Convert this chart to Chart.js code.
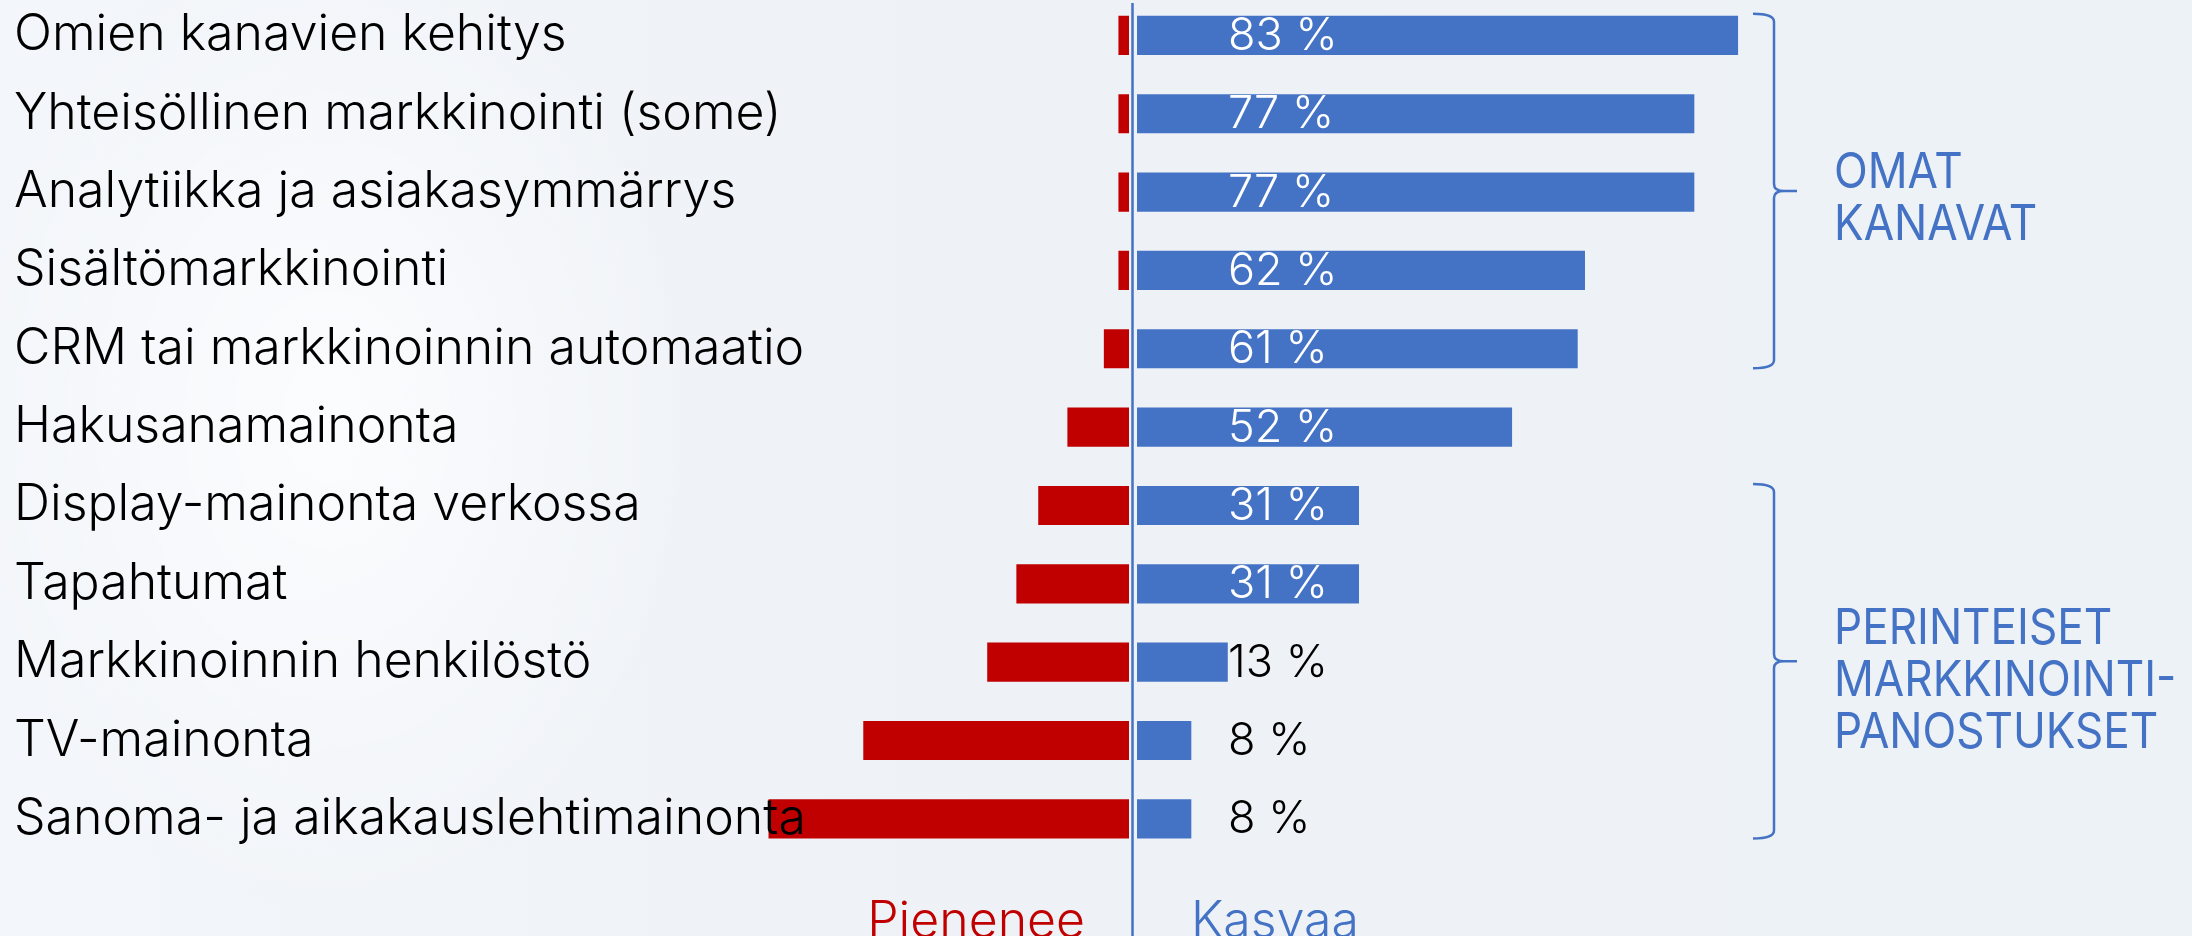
<!DOCTYPE html>
<html><head><meta charset="utf-8">
<script src="https://cdn.jsdelivr.net/npm/chart.js@4.4.1/dist/chart.umd.min.js"></script>
<style>
html,body{margin:0;padding:0;width:2192px;height:936px;overflow:hidden;}
body{background:
 radial-gradient(ellipse 520px 700px at 330px 420px, rgba(255,255,255,0.75), rgba(255,255,255,0) 70%),
 linear-gradient(90deg,#F3F6FA 0%,#EEF2F7 45%,#EDF2F7 100%);}
#wrap{position:absolute;left:0;top:-4px;width:2192px;height:944px;}
</style></head>
<body>
<div id="wrap"><canvas id="chart" width="2192" height="944"></canvas></div>
<script>
// ---- data ----
const categories = [
  'Omien kanavien kehitys',
  'Yhteisöllinen markkinointi (some)',
  'Analytiikka ja asiakasymmärrys',
  'Sisältömarkkinointi',
  'CRM tai markkinoinnin automaatio',
  'Hakusanamainonta',
  'Display-mainonta verkossa',
  'Tapahtumat',
  'Markkinoinnin henkilöstö',
  'TV-mainonta',
  'Sanoma- ja aikakauslehtimainonta'
];
const kasvaa = [83, 77, 77, 62, 61, 52, 31, 31, 13, 8, 8];          // % growing
const pienenee = [-2, -2, -2, -2, -4, -9, -13, -16, -20, -37, -50];  // % shrinking
const groupLabels = [
  { from: 0, to: 4, lines: ['OMAT', 'KANAVAT'] },
  { from: 6, to: 10, lines: ['PERINTEISET', 'MARKKINOINTI-', 'PANOSTUKSET'] }
];
const sideLabels = { neg: 'Pienenee', pos: 'Kasvaa' };

const RED = '#C00000', BLUE = '#4472C4';
const LABEL_FONT = '300 50px Inter';

const overlay = {
  id: 'overlay',
  afterDatasetsDraw(chart) {
    const ctx = chart.ctx, xs = chart.scales.x, ys = chart.scales.y;
    const x0 = xs.getPixelForValue(0);
    ctx.save();
    // zero line
    ctx.strokeStyle = BLUE; ctx.lineWidth = 2.5;
    ctx.beginPath(); ctx.moveTo(x0 - 0.5, 7); ctx.lineTo(x0 - 0.5, chart.height); ctx.stroke();
    // value labels
    ctx.font = '300 45px Inter';
    ctx.textBaseline = 'middle'; ctx.textAlign = 'left';
    const meta = chart.getDatasetMeta(1);
    meta.data.forEach((bar, i) => {
      const v = kasvaa[i];
      ctx.fillStyle = v >= 20 ? '#FFFFFF' : '#000000';
      ctx.fillText(v + ' %', x0 + 95, bar.y + 1);
    });
    // bottom side labels
    ctx.font = LABEL_FONT; ctx.textBaseline = 'alphabetic';
    ctx.fillStyle = RED; ctx.textAlign = 'right';
    ctx.fillText(sideLabels.neg, x0 - 48, chart.height - 3);
    ctx.fillStyle = BLUE; ctx.textAlign = 'left';
    ctx.fillText(sideLabels.pos, x0 + 58, chart.height - 3);
    // group braces + texts
    const step = ys.getPixelForValue(1) - ys.getPixelForValue(0);
    const bh = step * 0.25;
    groupLabels.forEach(g => {
      const top = ys.getPixelForValue(g.from) - bh - 2;
      const bot = ys.getPixelForValue(g.to) + bh;
      const mid = (top + bot) / 2;
      const xh = 1753, xv = 1774, xt = 1797;
      ctx.strokeStyle = BLUE; ctx.lineWidth = 2.5; ctx.lineCap = 'butt';
      ctx.beginPath();
      ctx.moveTo(xh, top);
      ctx.quadraticCurveTo(xv, top, xv, top + 8);
      ctx.lineTo(xv, mid - 7);
      ctx.quadraticCurveTo(xv, mid, xv + 10, mid);
      ctx.lineTo(xt, mid);
      ctx.moveTo(xv + 10, mid);
      ctx.quadraticCurveTo(xv, mid, xv, mid + 7);
      ctx.lineTo(xv, bot - 8);
      ctx.quadraticCurveTo(xv, bot, xh, bot);
      ctx.stroke();
      ctx.fillStyle = BLUE; ctx.font = '400 49px Inter'; ctx.textAlign = 'left';
      const n = g.lines.length;
      const firstBase = (n === 2) ? mid - 3 : mid - 17;
      g.lines.forEach((t, k) => {
        ctx.save();
        ctx.translate(1834, firstBase + k * 52);
        ctx.scale(0.9, 1);
        ctx.fillText(t, 0, 0);
        ctx.restore();
      });
    });
    ctx.restore();
  }
};

new Chart(document.getElementById('chart'), {
  type: 'bar',
  data: {
    labels: categories,
    datasets: [
      { label: 'Pienenee', data: pienenee, backgroundColor: RED, base: -0.55,
        grouped: false, barPercentage: 0.5, categoryPercentage: 1 },
      { label: 'Kasvaa', data: kasvaa, backgroundColor: BLUE, base: 0.55,
        grouped: false, barPercentage: 0.5, categoryPercentage: 1 }
    ]
  },
  options: {
    indexAxis: 'y',
    responsive: false,
    animation: false,
    devicePixelRatio: 1,
    layout: { padding: { left: 14, right: 330, top: 0, bottom: 82 } },
    plugins: { legend: { display: false }, tooltip: { enabled: false } },
    scales: {
      x: { display: false, min: -153.5, max: 100 },
      y: {
        grid: { display: false, drawTicks: false },
        border: { display: false },
        ticks: { z: 1, color: '#000', font: { family: 'Inter', weight: 300, size: 50, lineHeight: 0.01 },
                 mirror: true, autoSkip: false, padding: 0 },
        afterFit(scale) { scale.width = 0; }
      }
    }
  },
  plugins: [overlay]
});
</script></body></html>
